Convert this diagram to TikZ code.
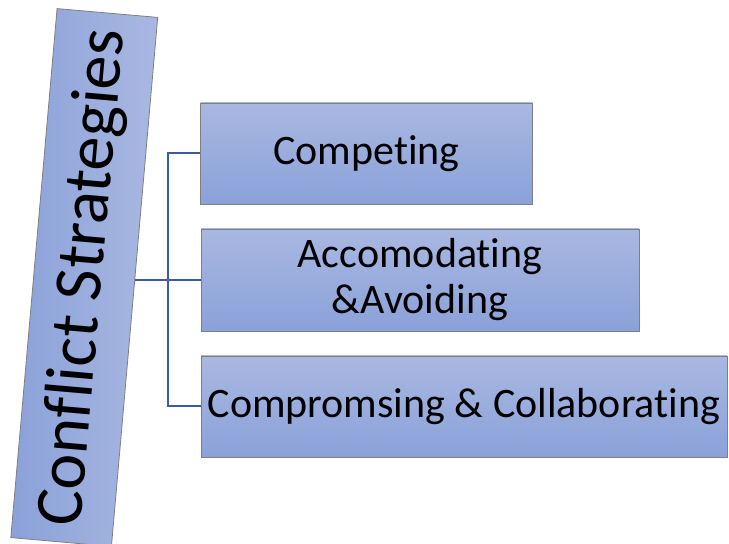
\documentclass[tikz,border=0pt]{standalone}
\usepackage{fontspec}
\setmainfont{Carlito}[Ligatures={NoCommon,NoContextual},Contextuals=NoAlternate]
\definecolor{boxtop}{HTML}{A9B8E1}
\definecolor{boxbot}{HTML}{8AA1D9}
\definecolor{boxline}{HTML}{7F7F7F}
\definecolor{connblue}{HTML}{3A5CA2}
\tikzset{
  stratbox/.style={draw=boxline, line width=0.8pt, top color=boxtop, bottom color=boxbot,
    inner sep=2pt, align=center, font=\fontsize{42}{46}\selectfont},
  rootbox/.style={draw=boxline, line width=0.8pt, left color=boxbot, right color=boxtop,
    inner sep=2pt, font=\fontsize{68}{80}\selectfont},
  conn/.style={draw=connblue, line width=2pt}
}
\begin{document}
\begin{tikzpicture}[x=1pt,y=1pt]
\useasboundingbox (0,0) rectangle (729,544);
\node[rootbox, rotate=85, minimum width=531pt, minimum height=101pt] (L) at (84.25,266.5) {Conflict Strategies};
\node[stratbox, minimum width=332pt, minimum height=101pt] (B1) at (366.5,390.5) {Competing};
\node[stratbox, minimum width=438pt, minimum height=102pt] (B2) at (420,264) {Accomodating\\\&Avoiding};
\node[stratbox, minimum width=526pt, minimum height=101pt] (B3) at (464,137.5) {Compromsing \& Collaborating};
\coordinate (J) at (168,264);
\draw[conn] (L.south |- B2.west) -- (B2.west);
\draw[conn] (B1.west) -| (J) |- (B3.west);
\end{tikzpicture}
\end{document}
